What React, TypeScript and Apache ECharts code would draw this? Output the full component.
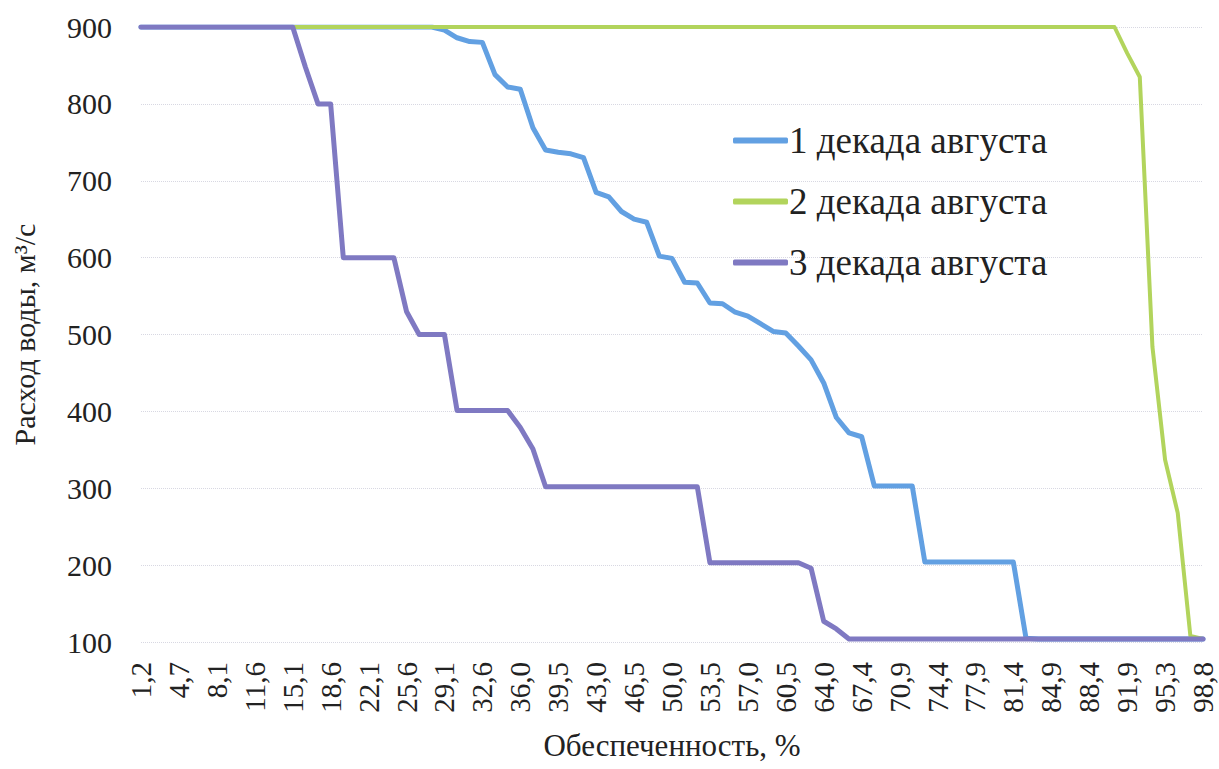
import React, { useEffect, useRef } from "react";
import * as echarts from "echarts";

const categories: string[] = [
  "1,2", "2,3", "3,5", "4,7", "5,8", "7,0", "8,1", "9,3", "10,5", "11,6",
  "12,8", "14,0", "15,1", "16,3", "17,4", "18,6", "19,8", "20,9", "22,1", "23,3",
  "24,4", "25,6", "26,7", "27,9", "29,1", "30,2", "31,4", "32,6", "33,7", "34,9",
  "36,0", "37,2", "38,4", "39,5", "40,7", "41,9", "43,0", "44,2", "45,3", "46,5",
  "47,7", "48,8", "50,0", "51,2", "52,3", "53,5", "54,7", "55,8", "57,0", "58,1",
  "59,3", "60,5", "61,6", "62,8", "64,0", "65,1", "66,3", "67,4", "68,6", "69,8",
  "70,9", "72,1", "73,3", "74,4", "75,6", "76,7", "77,9", "79,1", "80,2", "81,4",
  "82,6", "83,7", "84,9", "86,0", "87,2", "88,4", "89,5", "90,7", "91,9", "93,0",
  "94,2", "95,3", "96,5", "97,7", "98,8",
];

const seriesNames: string[] = ["1 декада августа", "2 декада августа", "3 декада августа"];

const decade1: number[] = [
  900, 900, 900, 900, 900, 900, 900, 900, 900, 900,
  900, 900, 900, 900, 900, 900, 900, 900, 900, 900,
  900, 900, 900, 900, 896, 886, 881, 880, 838, 822,
  819, 769, 740, 737, 735, 730, 685, 679, 660, 650,
  646, 602, 599, 568, 567, 541, 540, 529, 524, 514,
  504, 502, 485, 467, 437, 392, 372, 367, 303, 303,
  303, 303, 204, 204, 204, 204, 204, 204, 204, 204,
  105, 104, 104, 104, 104, 104, 104, 104, 104, 104,
  104, 104, 104, 104, 104,
];

const decade2: number[] = [
  900, 900, 900, 900, 900, 900, 900, 900, 900, 900,
  900, 900, 900, 900, 900, 900, 900, 900, 900, 900,
  900, 900, 900, 900, 900, 900, 900, 900, 900, 900,
  900, 900, 900, 900, 900, 900, 900, 900, 900, 900,
  900, 900, 900, 900, 900, 900, 900, 900, 900, 900,
  900, 900, 900, 900, 900, 900, 900, 900, 900, 900,
  900, 900, 900, 900, 900, 900, 900, 900, 900, 900,
  900, 900, 900, 900, 900, 900, 900, 900, 866, 835,
  484, 337, 268, 108, 104,
];

const decade3: number[] = [
  900, 900, 900, 900, 900, 900, 900, 900, 900, 900,
  900, 900, 900, 848, 800, 800, 600, 600, 600, 600,
  600, 530, 500, 500, 500, 401, 401, 401, 401, 401,
  379, 351, 302, 302, 302, 302, 302, 302, 302, 302,
  302, 302, 302, 302, 302, 203, 203, 203, 203, 203,
  203, 203, 203, 196, 127, 117, 104, 104, 104, 104,
  104, 104, 104, 104, 104, 104, 104, 104, 104, 104,
  104, 104, 104, 104, 104, 104, 104, 104, 104, 104,
  104, 104, 104, 104, 104,
];

const yTicks = { min: 100, max: 900, interval: 100 };
const colors: string[] = ["#62a0e2", "#b2d45c", "#7f79c2"];
const FONT = "Liberation Serif";

export default function App() {
  const ref = useRef<HTMLDivElement>(null);
  useEffect(() => {
    if (!ref.current) return;
    const chart = echarts.init(ref.current, undefined, { renderer: "svg" });
    const dataSets = [decade1, decade2, decade3];
    const widths = [5, 4, 5];
    chart.setOption({
      animation: false,
      backgroundColor: "#ffffff",
      textStyle: { fontFamily: FONT },
      grid: { left: 141, top: 27, width: 1062, height: 615 },
      legend: {
        orient: "vertical",
        left: 728,
        top: 117,
        itemWidth: 55,
        itemHeight: 6,
        itemGap: 24,
        icon: "roundRect",
        textStyle: { fontFamily: FONT, fontSize: 37, color: "#222", padding: [0, 0, 0, -4] },
        data: seriesNames,
      },
      xAxis: {
        type: "category",
        data: categories,
        boundaryGap: false,
        name: "Обеспеченность, %",
        nameLocation: "middle",
        nameGap: 88,
        nameTextStyle: { fontFamily: FONT, fontSize: 31, color: "#222" },
        axisLine: { show: false },
        axisTick: { show: false },
        splitLine: { show: false },
        axisLabel: {
          rotate: 90,
          interval: 2,
          margin: 20,
          fontFamily: FONT,
          fontSize: 29,
          color: "#222",
        },
      },
      yAxis: {
        type: "value",
        min: yTicks.min,
        max: yTicks.max,
        interval: yTicks.interval,
        name: "Расход воды, м³/с",
        nameLocation: "middle",
        nameGap: 102,
        nameTextStyle: { fontFamily: FONT, fontSize: 30, color: "#222" },
        axisLine: { show: false },
        axisTick: { show: false },
        axisLabel: { margin: 29, fontFamily: FONT, fontSize: 30, color: "#222" },
        splitLine: { lineStyle: { type: "dotted", color: "#d8d8e2", width: 1 } },
      },
      series: dataSets.map((d, k) => ({
        name: seriesNames[k],
        type: "line",
        data: d,
        showSymbol: false,
        symbol: "none",
        color: colors[k],
        lineStyle: { width: widths[k], color: colors[k], cap: "round", join: "round" },
        itemStyle: { color: colors[k] },
        z: 2 + k,
      })),
    });
    return () => chart.dispose();
  }, []);
  return (
    <div
      ref={ref}
      style={{ position: "fixed", left: 0, top: 0, width: 1219, height: 769, background: "#fff" }}
    />
  );
}
